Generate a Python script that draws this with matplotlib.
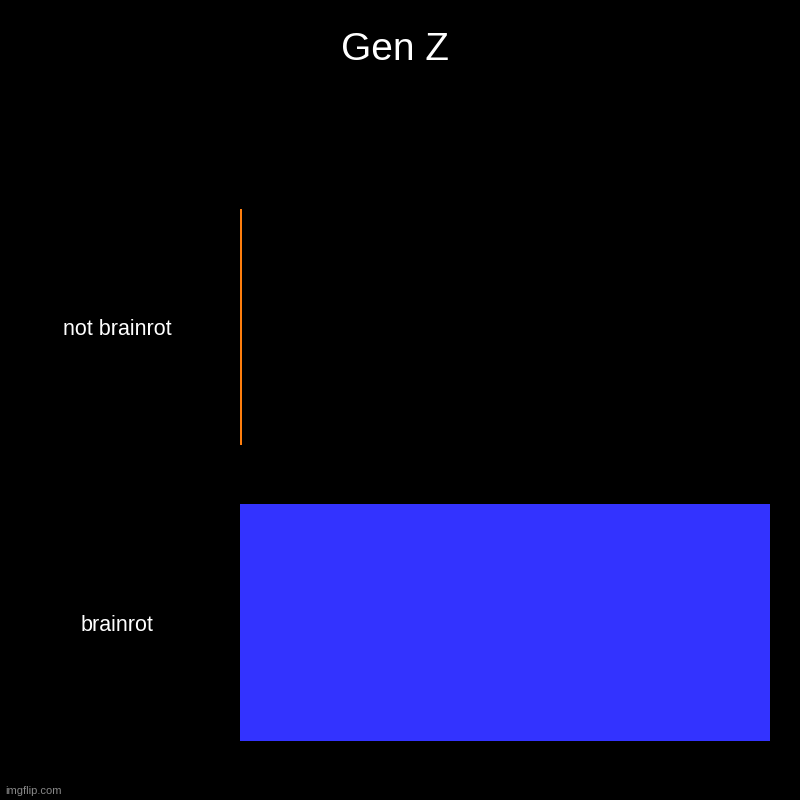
import matplotlib.pyplot as plt
import matplotlib.transforms as mtransforms

plt.rcParams['font.family'] = ['Liberation Sans', 'DejaVu Sans']

title = "Gen Z"
categories = ["brainrot", "not brainrot"]
values = [100, 0.4]
colors = ["#3333ff", "#ff7f0e"]

fig = plt.figure(figsize=(8, 8), dpi=100, facecolor="black")
ax = fig.add_axes([0.3, 0.0372, 0.6625, 0.73875], facecolor="black")

ax.barh(range(len(categories)), values, height=0.8, color=colors)
ax.set_xlim(0, max(values))
ax.set_ylim(-0.5, len(categories) - 0.5)
ax.axis("off")

# category labels centred in the left margin
trans = mtransforms.blended_transform_factory(fig.transFigure, ax.transData)
for i, name in enumerate(categories):
    ax.text(0.1465, i - 0.01, name, transform=trans, ha="center", va="center",
            color="white", fontsize=15.5)

fig.text(0.494, 0.937, title, ha="center", va="center", color="white", fontsize=28)
fig.text(0.006, 0.011, "imgflip.com", ha="left", va="center", color="#888888", fontsize=8)

fig.savefig("out.png", dpi=100, facecolor="black")
